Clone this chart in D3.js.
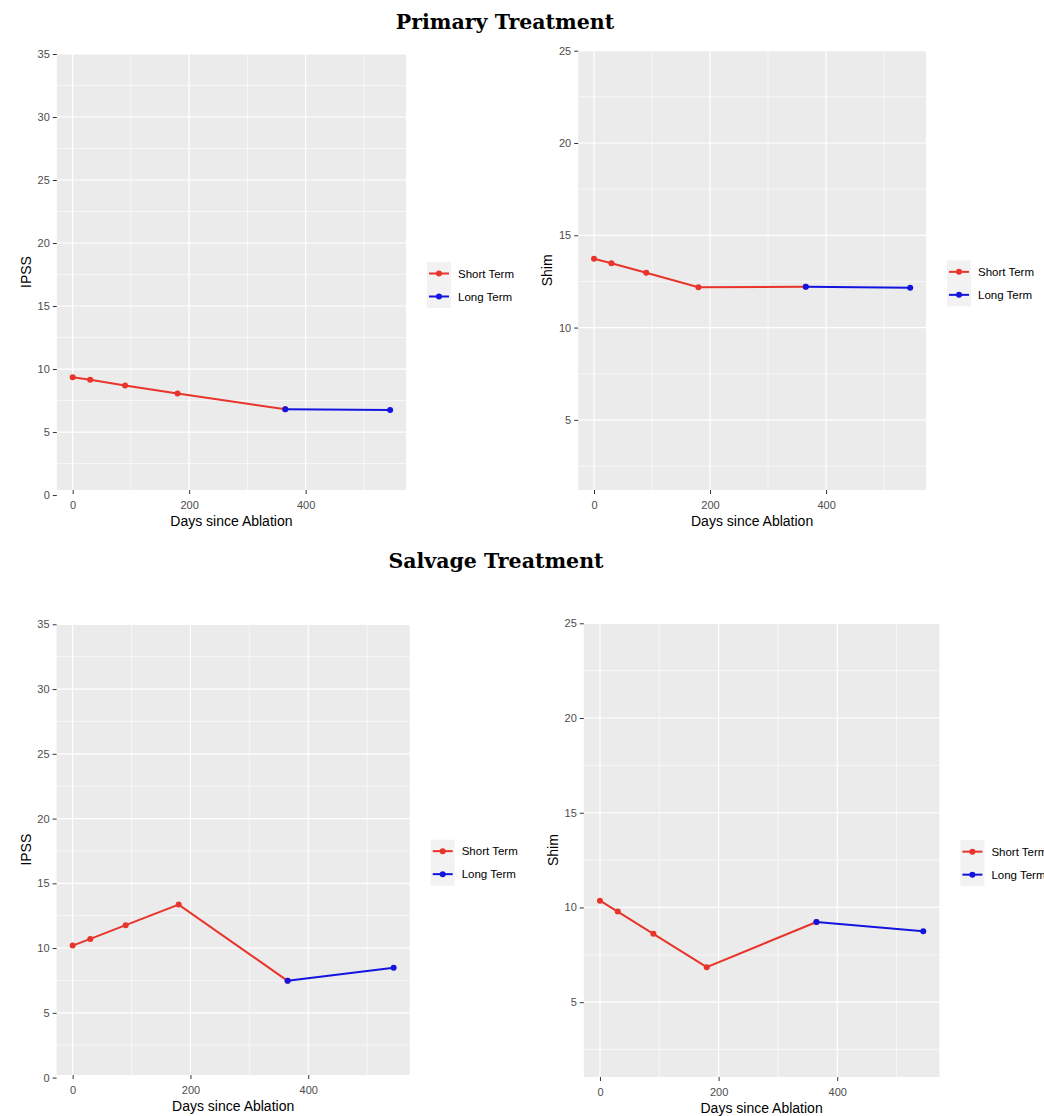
<!DOCTYPE html>
<html lang="en">
<head>
    <meta charset="UTF-8">
    <title>IPSS and Shim since Ablation</title>
    <script src="https://d3js.org/d3.v7.min.js"></script>
    <style>
        body {
            margin: 0;
            background-color: #ffffff;
        }
        text {
            font-family: 'Liberation Sans', Arial, sans-serif;
        }
        .title {
            font-family: 'DejaVu Serif', serif;
            font-weight: bold;
            font-size: 20.5px;
        }
        .tick text {
            fill: #4d4d4d;
            font-size: 11px;
        }
        .tick line {
            stroke: #333333;
        }
    </style>
</head>
<body>
    <script>
        // Data
        const seriesNames = ["Short Term", "Long Term"];
        const shortDays = [0, 30, 90, 180, 365];
        const longDays = [365, 545];

        const primaryIpssShort = [9.35, 9.15, 8.7, 8.05, 6.8];
        const primaryIpssLong = [6.8, 6.75];
        const primaryShimShort = [13.73, 13.48, 12.97, 12.18, 12.21];
        const primaryShimLong = [12.21, 12.16];

        const salvageIpssShort = [10.19, 10.71, 11.77, 13.36, 7.47];
        const salvageIpssLong = [7.47, 8.49];
        const salvageShimShort = [10.36, 9.78, 8.61, 6.85, 9.23];
        const salvageShimLong = [9.23, 8.74];

        const xTicks = [0, 200, 400];
        const xMinor = [100, 300, 500];
        const ipssTicks = [0, 5, 10, 15, 20, 25, 30, 35];
        const shimTicks = [5, 10, 15, 20, 25];

        const colors = ["#e8342b", "#1414e0"];

        // panels: pixel box and y domain at its edges
        const panels = [
            {ylab: "IPSS", short: primaryIpssShort, long: primaryIpssLong, ticks: ipssTicks,
             left: 56.8, right: 406, top: 54, bottom: 490, ymin: 0.4, ymax: 35},
            {ylab: "Shim", short: primaryShimShort, long: primaryShimLong, ticks: shimTicks,
             left: 578.2, right: 926, top: 50.7, bottom: 490, ymin: 1.2, ymax: 25},
            {ylab: "IPSS", short: salvageIpssShort, long: salvageIpssLong, ticks: ipssTicks,
             left: 56.6, right: 409.7, top: 624.3, bottom: 1075, ymin: 0.2, ymax: 35},
            {ylab: "Shim", short: salvageShimShort, long: salvageShimLong, ticks: shimTicks,
             left: 583.8, right: 939.4, top: 623.3, bottom: 1077, ymin: 1.05, ymax: 25}
        ];

        const svg = d3.select("body").append("svg")
            .attr("width", 1044)
            .attr("height", 1116);

        svg.append("text").attr("class", "title")
            .attr("x", 505).attr("y", 29)
            .attr("text-anchor", "middle")
            .text("Primary Treatment");
        svg.append("text").attr("class", "title")
            .attr("x", 496).attr("y", 568)
            .attr("text-anchor", "middle")
            .text("Salvage Treatment");

        panels.forEach(function(p) {
            const x = d3.scaleLinear().domain([-27.25, 572.25]).range([p.left, p.right]);
            const y = d3.scaleLinear().domain([p.ymin, p.ymax]).range([p.bottom, p.top]);
            const g = svg.append("g");

            g.append("rect")
                .attr("x", p.left).attr("y", p.top)
                .attr("width", p.right - p.left).attr("height", p.bottom - p.top)
                .attr("fill", "#ebebeb");

            // minor grid
            const yMinor = p.ticks.map(function(t) { return t - 2.5; })
                .concat([p.ticks[p.ticks.length - 1] + 2.5])
                .filter(function(v) { return v > p.ymin && v < p.ymax; });
            g.selectAll(".ymin").data(yMinor).enter().append("line")
                .attr("x1", p.left).attr("x2", p.right)
                .attr("y1", function(d) { return y(d); }).attr("y2", function(d) { return y(d); })
                .attr("stroke", "#ffffff").attr("stroke-width", 0.6);
            g.selectAll(".xmin").data(xMinor).enter().append("line")
                .attr("y1", p.top).attr("y2", p.bottom)
                .attr("x1", function(d) { return x(d); }).attr("x2", function(d) { return x(d); })
                .attr("stroke", "#ffffff").attr("stroke-width", 0.6);

            // major grid
            g.selectAll(".ymaj").data(p.ticks.filter(function(v) { return v >= p.ymin; })).enter().append("line")
                .attr("x1", p.left).attr("x2", p.right)
                .attr("y1", function(d) { return y(d); }).attr("y2", function(d) { return y(d); })
                .attr("stroke", "#ffffff").attr("stroke-width", 1.2);
            g.selectAll(".xmaj").data(xTicks).enter().append("line")
                .attr("y1", p.top).attr("y2", p.bottom)
                .attr("x1", function(d) { return x(d); }).attr("x2", function(d) { return x(d); })
                .attr("stroke", "#ffffff").attr("stroke-width", 1.2);

            // axes
            const ax = g.append("g")
                .attr("transform", "translate(0," + p.bottom + ")")
                .call(d3.axisBottom(x).tickValues(xTicks).tickSize(4).tickPadding(7));
            ax.select(".domain").remove();

            const yTickPos = y(p.ticks[0]);
            const ay = g.append("g")
                .attr("transform", "translate(" + p.left + ",0)")
                .call(d3.axisLeft(d3.scaleLinear().domain([p.ticks[0], p.ymax]).range([yTickPos, p.top]))
                    .tickValues(p.ticks).tickSize(4).tickPadding(3));
            ay.select(".domain").remove();

            // axis titles
            g.append("text")
                .attr("x", (p.left + p.right) / 2).attr("y", p.bottom + 36)
                .attr("text-anchor", "middle")
                .attr("font-size", "14px")
                .text("Days since Ablation");
            g.append("text")
                .attr("transform", "translate(" + (p.left - 26) + "," + ((p.top + p.bottom) / 2) + ") rotate(-90)")
                .attr("text-anchor", "middle")
                .attr("font-size", "14px")
                .text(p.ylab);

            // series
            const line = d3.line()
                .x(function(d) { return x(d[0]); })
                .y(function(d) { return y(d[1]); });
            const series = [
                d3.zip(shortDays, p.short),
                d3.zip(longDays, p.long)
            ];
            series.forEach(function(s, i) {
                g.append("path")
                    .datum(s)
                    .attr("d", line)
                    .attr("fill", "none")
                    .attr("stroke", colors[i])
                    .attr("stroke-width", 2);
                g.selectAll(".pt" + i).data(s).enter().append("circle")
                    .attr("cx", function(d) { return x(d[0]); })
                    .attr("cy", function(d) { return y(d[1]); })
                    .attr("r", 3)
                    .attr("fill", colors[i]);
            });

            // legend
            const lx = p.right + 33;
            const lc = (p.top + p.bottom) / 2 + 13;
            seriesNames.forEach(function(name, i) {
                const ly = lc + (i - 0.5) * 23;
                g.append("rect")
                    .attr("x", lx - 12).attr("y", ly - 11.5)
                    .attr("width", 24).attr("height", 23)
                    .attr("fill", "#f2f2f2");
                g.append("line")
                    .attr("x1", lx - 10).attr("x2", lx + 10)
                    .attr("y1", ly).attr("y2", ly)
                    .attr("stroke", colors[i]).attr("stroke-width", 2);
                g.append("circle")
                    .attr("cx", lx).attr("cy", ly).attr("r", 3)
                    .attr("fill", colors[i]);
                g.append("text")
                    .attr("x", p.right + 52).attr("y", ly)
                    .attr("dy", "0.35em")
                    .attr("font-size", "11.5px")
                    .text(name);
            });
        });
    </script>
</body>
</html>
